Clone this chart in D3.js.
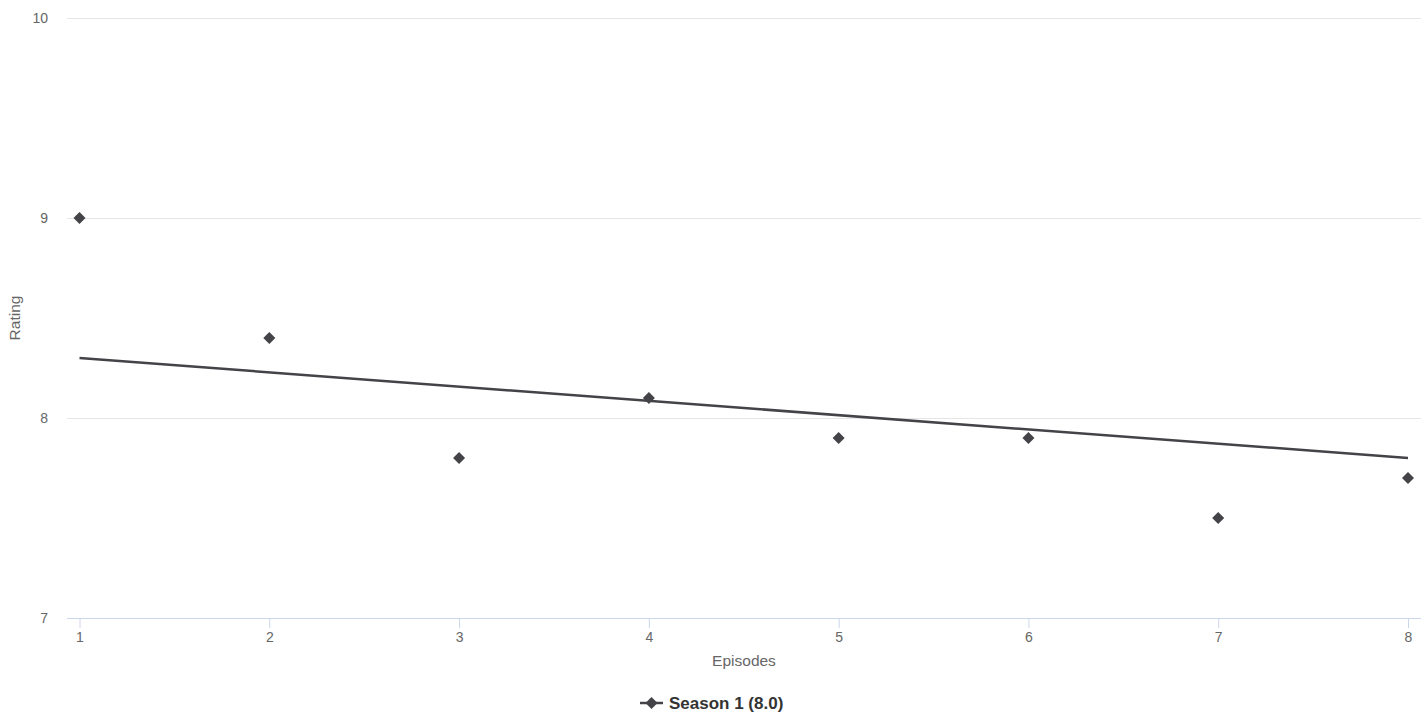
<!DOCTYPE html>
<html>
<head>
<meta charset="utf-8">
<script src="https://cdn.jsdelivr.net/npm/d3@7"></script>
<style>
  html, body { margin: 0; padding: 0; background: #fff; }
  svg { display: block; font-family: "Liberation Sans", Arial, sans-serif; }
</style>
</head>
<body>
<svg id="chart" width="1428" height="722"></svg>
<script>
'use strict';

// episode numbers and ratings
const episodes = [1, 2, 3, 4, 5, 6, 7, 8];
const ratings = [9.0, 8.4, 7.8, 8.1, 7.9, 7.9, 7.5, 7.7];
// trend line end values (first and last episode)
const trendEnds = [8.3, 7.8];
const yTicks = [7, 8, 9, 10];
const seriesName = 'Season 1';

const color = '#434348';
const plot = { left: 67, right: 1421, top: 18, bottom: 618 };

const svg = d3.select('#chart');

const x = d3.scaleLinear()
  .domain([1, 8])
  .range([79.5, 1408]);
const y = d3.scaleLinear()
  .domain([7, 10])
  .range([plot.bottom, plot.top]);

// horizontal grid
svg.append('g')
  .selectAll('line')
  .data(yTicks.filter(d => d !== 7))
  .join('line')
  .attr('x1', plot.left).attr('x2', plot.right)
  .attr('y1', d => Math.round(y(d)) + 0.5).attr('y2', d => Math.round(y(d)) + 0.5)
  .attr('stroke', '#e6e6e6');

// y axis labels
const yAxis = d3.axisLeft(y).tickValues(yTicks).tickFormat(d3.format('d')).tickSize(0).tickPadding(0);
const yg = svg.append('g')
  .attr('transform', 'translate(48,0)')
  .call(yAxis);
yg.select('.domain').remove();
yg.selectAll('text')
  .attr('fill', '#666')
  .style('font-size', '14px');

// x axis
const xAxis = d3.axisBottom(x).tickValues(episodes).tickFormat(d3.format('d')).tickSize(10).tickPadding(4);
const xg = svg.append('g')
  .attr('transform', `translate(0,${plot.bottom})`)
  .call(xAxis);
xg.select('.domain')
  .attr('d', `M${plot.left},0.5H${plot.right}`)
  .attr('stroke', '#ccd6eb');
xg.selectAll('.tick line').attr('stroke', '#ccd6eb');
xg.selectAll('text')
  .attr('fill', '#666')
  .style('font-size', '14px');

// axis titles
svg.append('text')
  .attr('transform', `translate(19.5,${(plot.top + plot.bottom) / 2}) rotate(-90)`)
  .attr('text-anchor', 'middle')
  .attr('fill', '#666')
  .style('font-size', '15.5px')
  .text('Rating');

svg.append('text')
  .attr('x', 744)
  .attr('y', 666)
  .attr('text-anchor', 'middle')
  .attr('fill', '#666')
  .style('font-size', '15.5px')
  .text('Episodes');

// trend line
svg.append('line')
  .attr('x1', x(episodes[0])).attr('y1', y(trendEnds[0]))
  .attr('x2', x(episodes[episodes.length - 1])).attr('y2', y(trendEnds[1]))
  .attr('stroke', color)
  .attr('stroke-width', 2.5);

// points as diamonds
const diamond = d3.symbol().type(d3.symbolSquare).size(72);
svg.append('g')
  .selectAll('path')
  .data(episodes.map((e, i) => ({ e, r: ratings[i] })))
  .join('path')
  .attr('d', diamond)
  .attr('transform', d => `translate(${x(d.e)},${y(d.r)}) rotate(45)`)
  .attr('fill', color);

// legend
const mean = d3.mean(ratings);
const legend = svg.append('g').attr('transform', 'translate(640,703)');
legend.append('line')
  .attr('x1', 0).attr('x2', 23)
  .attr('stroke', color).attr('stroke-width', 2.5);
legend.append('path')
  .attr('d', diamond)
  .attr('transform', 'translate(11.5,0) rotate(45)')
  .attr('fill', color);
legend.append('text')
  .attr('x', 29)
  .attr('y', 6)
  .attr('fill', '#333')
  .style('font-size', '17px')
  .style('font-weight', 'bold')
  .text(`${seriesName} (${mean.toFixed(1)})`);
</script>
</body>
</html>
